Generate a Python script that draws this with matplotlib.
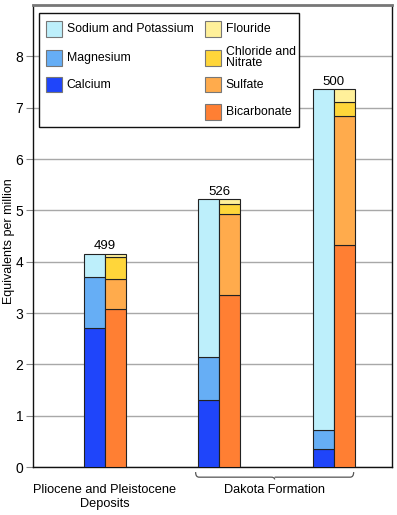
import matplotlib.pyplot as plt
from matplotlib.patches import Rectangle, PathPatch
from matplotlib.path import Path
import matplotlib.transforms as mtransforms
import numpy as np

plt.rcParams['font.family'] = ['Liberation Sans', 'DejaVu Sans']

# data (equivalents per million)
groups = ['Pliocene and Pleistocene\nDeposits', '', '']
totals = ['499', '526', '500']
calcium = [2.71, 1.30, 0.35]
magnesium = [1.00, 0.84, 0.38]
sodium = [0.44, 3.08, 6.63]
bicarbonate = [3.07, 3.35, 4.33]
sulfate = [0.59, 1.57, 2.50]
chloride = [0.43, 0.20, 0.29]
fluoride = [0.06, 0.10, 0.24]

cation_names = ['Sodium and Potassium', 'Magnesium', 'Calcium']
anion_names = ['Flouride', 'Chloride and\nNitrate', 'Sulfate', 'Bicarbonate']

c_ca = '#1f45fa'
c_mg = '#66aef5'
c_na = '#bdeffb'
c_hco3 = '#ff7f33'
c_so4 = '#ffab4c'
c_cl = '#ffd63a'
c_f = '#fff09a'

fig = plt.figure(figsize=(3.97, 5.15), dpi=100)
ax = fig.add_axes([0.0831, 0.0932, 0.904, 0.897])

x = np.arange(len(groups))
w = 0.183
ek = dict(edgecolor='#222222', linewidth=0.8, zorder=3)

# cations
xc = x - w / 2
b = np.zeros(3)
for vals, col in [(calcium, c_ca), (magnesium, c_mg), (sodium, c_na)]:
    ax.bar(xc, vals, w, bottom=b, color=col, **ek)
    b = b + np.array(vals)
top_c = b

# anions
xa = x + w / 2
b = np.zeros(3)
for vals, col in [(bicarbonate, c_hco3), (sulfate, c_so4), (chloride, c_cl), (fluoride, c_f)]:
    ax.bar(xa, vals, w, bottom=b, color=col, **ek)
    b = b + np.array(vals)
top_a = b

for i in range(3):
    ax.text(x[i], max(top_c[i], top_a[i]) + 0.03, totals[i], ha='center', va='bottom',
            fontsize=9.5)

ax.set_xlim(-0.629, 2.507)
ax.set_ylim(0, 9)
ax.set_yticks(range(9))
ax.set_xticks([])
ax.yaxis.grid(True, color='#a8a8a8', linewidth=1)
ax.set_axisbelow(True)
ax.tick_params(axis='y', length=5, color='#888888', labelsize=10, pad=2)
for s in ['left', 'bottom', 'right']:
    ax.spines[s].set_color('#111111')
    ax.spines[s].set_linewidth(1)
ax.spines['top'].set_color('#777777')
ax.spines['top'].set_linewidth(2)
ax.set_ylabel('Equivalents per million', fontsize=9, ha='center', va='center')
ax.yaxis.set_label_coords(-0.067, 0.49)

# x labels
trans = mtransforms.blended_transform_factory(ax.transData, ax.transAxes)
ax.text(x[0], -0.037, groups[0], transform=trans,
        ha='center', va='top', fontsize=9.2, linespacing=1.2)
x0 = x[1] - w - 0.025
x1 = x[2] + w - 0.01
xm = (x0 + x1) / 2
yt, yb, ym = -0.011, -0.022, -0.027
d = 0.03
verts = [(x0, yt), (x0, yb), (x0 + d, yb), (xm - d, yb), (xm, yb), (xm, ym),
         (xm, yb), (xm + d, yb), (x1 - d, yb), (x1, yb), (x1, yt)]
codes = [Path.MOVETO, Path.CURVE3, Path.CURVE3, Path.LINETO, Path.CURVE3, Path.CURVE3,
         Path.MOVETO, Path.LINETO, Path.LINETO, Path.CURVE3, Path.CURVE3]
ax.add_patch(PathPatch(Path(verts, codes), transform=trans, fill=False, edgecolor='#555555',
                       linewidth=0.9, clip_on=False))
ax.text(xm, -0.037, 'Dakota Formation', transform=trans, ha='center', va='top', fontsize=9.2)

# legend box
ax.add_patch(Rectangle((0.0167, 0.736), 0.7243, 0.247, transform=ax.transAxes,
                       facecolor='white', edgecolor='#111111', linewidth=1, zorder=5))
rows = [0.948, 0.886, 0.828, 0.768]
sw, sh = 0.0446, 0.0346
for i, (name, col) in enumerate(zip(cation_names, [c_na, c_mg, c_ca])):
    ax.add_patch(Rectangle((0.0362, rows[i] - sh / 2), sw, sh, transform=ax.transAxes,
                           facecolor=col, edgecolor='#777777', linewidth=0.8, zorder=6))
    ax.text(0.094, rows[i], name, transform=ax.transAxes, va='center', fontsize=8.8, zorder=7)
for i, (name, col) in enumerate(zip(anion_names, [c_f, c_cl, c_so4, c_hco3])):
    ax.add_patch(Rectangle((0.4788, rows[i] - sh / 2), sw, sh, transform=ax.transAxes,
                           facecolor=col, edgecolor='#777777', linewidth=0.8, zorder=6))
    ax.text(0.5365, rows[i], name, transform=ax.transAxes, va='center', fontsize=8.8,
            linespacing=0.95, zorder=7)

fig.savefig('out.png', dpi=100)
